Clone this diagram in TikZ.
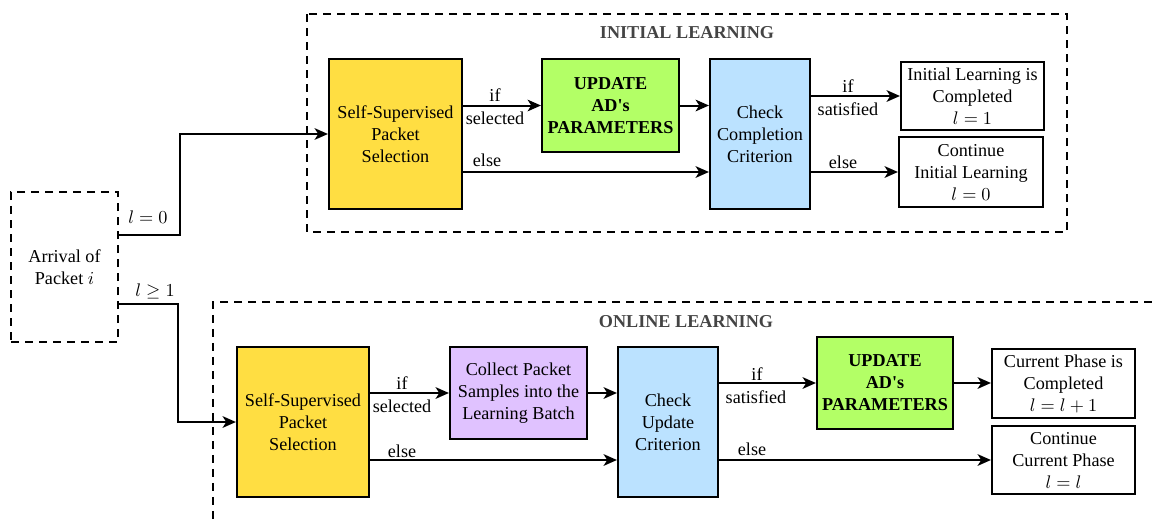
\documentclass[tikz,border=0pt]{standalone}
\usepackage{fontspec}
\setmainfont{Liberation Serif}
\usetikzlibrary{arrows.meta}
\definecolor{cyel}{RGB}{255,222,66}
\definecolor{cgrn}{RGB}{179,255,102}
\definecolor{cblu}{RGB}{187,226,255}
\definecolor{cpur}{RGB}{224,194,255}
\definecolor{ctitle}{RGB}{68,68,68}
\tikzset{
  base/.style={font=\fontsize{10.9}{13.2}\selectfont},
  box/.style={base, draw=black, line width=1.3pt, align=center, inner sep=1pt},
  ybox/.style={box, fill=cyel},
  gbox/.style={box, fill=cgrn, font=\fontsize{10.9}{13.2}\selectfont\bfseries},
  bbox/.style={box, fill=cblu},
  pbox/.style={box, fill=cpur},
  wbox/.style={box, fill=white},
  dbox/.style={base, draw=black, line width=1.2pt, dash pattern=on 4.8pt off 3.6pt, align=center, inner sep=1pt},
  dline/.style={draw=black, line width=1.2pt, dash pattern=on 4.8pt off 3.6pt},
  arr/.style={draw=black, line width=1.2pt, -{Stealth[length=8pt,width=7pt,inset=2.2pt]}},
  lbl/.style={base, inner sep=0pt},
  ttl/.style={base, font=\fontsize{10.9}{13.2}\selectfont\bfseries, text=ctitle, inner sep=0pt},
}
\begin{document}
\begin{tikzpicture}[x=0.6pt,y=-0.6pt]
\useasboundingbox (0,0) rectangle (1152,519);
% dashed frames
\draw[dline] (307,14) rectangle (1067,232);
\draw[dline] (1152,302) -- (213,302) -- (213,519);
\node[ttl] (t1) at (687,33) {INITIAL LEARNING};
\node[ttl] (t2) at (686,322) {ONLINE LEARNING};
% arrival
\node[dbox, minimum width=107*0.6pt, minimum height=150*0.6pt] (arrival) at (64.5,267) {Arrival of\\Packet $i$};
% initial learning row
\node[ybox, minimum width=133*0.6pt, minimum height=150*0.6pt] (sel1) at (395.5,134) {Self-Supervised\\Packet\\Selection};
\node[gbox, minimum width=137*0.6pt, minimum height=93*0.6pt] (upd1) at (610.5,105.5) {UPDATE\\AD\textquotesingle s\\PARAMETERS};
\node[bbox, minimum width=100*0.6pt, minimum height=150*0.6pt] (chk1) at (760,134) {Check\\Completion\\Criterion};
\node[wbox, minimum width=143*0.6pt, minimum height=68*0.6pt] (done1) at (972.5,96) {Initial Learning is\\Completed\\$l=1$};
\node[wbox, minimum width=144*0.6pt, minimum height=70*0.6pt] (cont1) at (971,172) {Continue\\Initial Learning\\$l=0$};
% online learning row
\node[ybox, minimum width=132*0.6pt, minimum height=150*0.6pt] (sel2) at (303,422) {Self-Supervised\\Packet\\Selection};
\node[pbox, minimum width=137*0.6pt, minimum height=92*0.6pt] (col2) at (518.5,393) {Collect Packet\\Samples into the\\Learning Batch};
\node[bbox, minimum width=100*0.6pt, minimum height=150*0.6pt] (chk2) at (668,422) {Check\\Update\\Criterion};
\node[gbox, minimum width=136*0.6pt, minimum height=92*0.6pt] (upd2) at (885,383) {UPDATE\\AD\textquotesingle s\\PARAMETERS};
\node[wbox, minimum width=143*0.6pt, minimum height=69*0.6pt] (done2) at (1063.5,383.5) {Current Phase is\\Completed\\$l=l+1$};
\node[wbox, minimum width=143*0.6pt, minimum height=68*0.6pt] (cont2) at (1063.5,460) {Continue\\Current Phase\\$l=l$};
% entry connectors
\coordinate (k1) at (180,235);
\coordinate (k2) at (178,304);
\draw[arr] (arrival.east |- k1) -- (k1) |- (sel1.west);
\draw[arr] (arrival.east |- k2) -- (k2) |- (sel2.west);
\node[lbl] (l0) at (148,217) {$l=0$};
\node[lbl] (l1) at (155,291) {$l\geq 1$};
% initial connectors
\coordinate (e1) at (0,172);
\draw[arr] (sel1.east |- upd1.west) -- (upd1.west);
\draw[arr] (upd1.east) -- (chk1.west |- upd1.east);
\draw[arr] (sel1.east |- e1) -- (chk1.west |- e1);
\draw[arr] (chk1.east |- done1.west) -- (done1.west);
\draw[arr] (chk1.east |- cont1.west) -- (cont1.west);
\node[lbl] (a1) at (495,95) {if};
\node[lbl] (a2) at (495,118) {selected};
\node[lbl] (a3) at (487,160) {else};
\node[lbl] (a4) at (848,86) {if};
\node[lbl] (a5) at (848,109) {satisfied};
\node[lbl] (a6) at (843,162) {else};
% online connectors
\coordinate (e2) at (0,460);
\draw[arr] (sel2.east |- col2.west) -- (col2.west);
\draw[arr] (col2.east) -- (chk2.west |- col2.east);
\draw[arr] (sel2.east |- e2) -- (chk2.west |- e2);
\draw[arr] (chk2.east |- upd2.west) -- (upd2.west);
\draw[arr] (upd2.east) -- (done2.west |- upd2.east);
\draw[arr] (chk2.east |- cont2.west) -- (cont2.west);
\node[lbl] (b1) at (402,383) {if};
\node[lbl] (b2) at (402,406) {selected};
\node[lbl] (b3) at (402,451) {else};
\node[lbl] (b4) at (757,374) {if};
\node[lbl] (b5) at (756,397) {satisfied};
\node[lbl] (b6) at (752,449) {else};
\end{tikzpicture}
\end{document}
